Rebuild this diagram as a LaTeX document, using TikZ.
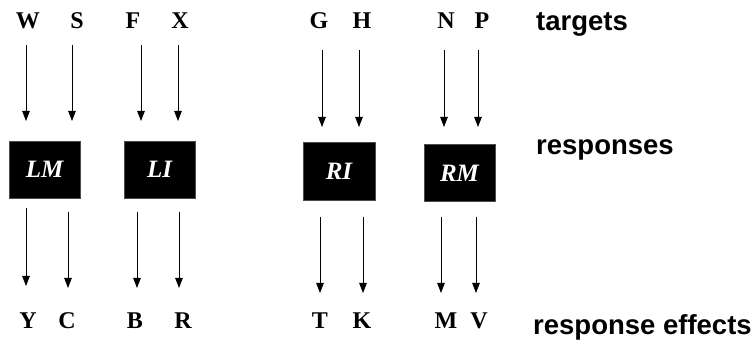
\documentclass[tikz,border=0pt]{standalone}
\usepackage{fontspec}
\setmainfont{Liberation Serif}
\newfontfamily\lblfont{Liberation Sans}
\usetikzlibrary{arrows.meta}
\begin{document}
\begin{tikzpicture}[x=1pt,y=-1pt,
  letter/.style={inner sep=0pt,font=\fontsize{24}{26}\selectfont\bfseries},
  lbl/.style={inner sep=0pt,anchor=west,font=\lblfont\fontsize{27.5}{30}\selectfont\bfseries},
  respbox/.style={fill=black,draw=black!70,line width=0.5pt,minimum width=71pt,minimum height=57pt,inner sep=0pt,
    text=white,font=\fontsize{25}{27}\selectfont\bfseries\itshape},
  arr/.style={line width=0.9pt,-{Triangle[length=10pt,width=7.5pt]}}]
\useasboundingbox (0,0) rectangle (756,347);
% top letters
\node[letter] (W) at (28,21) {W};
\node[letter] (S) at (77,21) {S};
\node[letter] (F) at (133,21) {F};
\node[letter] (X) at (180,21) {X};
\node[letter] (G) at (319,21) {G};
\node[letter] (H) at (362,21) {H};
\node[letter] (N) at (446,21) {N};
\node[letter] (P) at (482,21) {P};
% bottom letters
\node[letter] (Y) at (28,321) {Y};
\node[letter] (C) at (67,321) {C};
\node[letter] (B) at (135,321) {B};
\node[letter] (R) at (183,321) {R};
\node[letter] (T) at (320,321) {T};
\node[letter] (K) at (362,321) {K};
\node[letter] (M) at (446,321) {M};
\node[letter] (V) at (479,321) {V};
% boxes
\node[respbox] (LM) at (44.5,169.5) {LM};
\node[respbox] (LI) at (159.5,169.5) {LI};
\node[respbox,minimum width=72pt,minimum height=58pt] (RI) at (339,171) {RI};
\node[respbox] (RM) at (459.5,173) {RM};
% labels
\node[lbl] (targets) at (536,24) {targets};
\node[lbl] (responses) at (536,150) {responses};
\node[lbl] (effects) at (533,327) {response effects};
% arrow end points
\foreach \n/\x/\a/\b in {W/26/45/121, S/72/45/121, F/141/45/121, X/178/45/121,
  G/322/50/127, H/359/50/127, N/444/50/127, P/478/50/127,
  Y/26/208/286, C/68/212/288, B/137/212/288, R/179/212/288,
  T/320/217/293, K/363/217/293, M/441/217/293, V/476/217/293}{
  \coordinate (\n1) at (\x,\a);
  \coordinate (\n2) at (\x,\b);
  \draw[arr] (\n1) -- (\n2);
}
\end{tikzpicture}
\end{document}
